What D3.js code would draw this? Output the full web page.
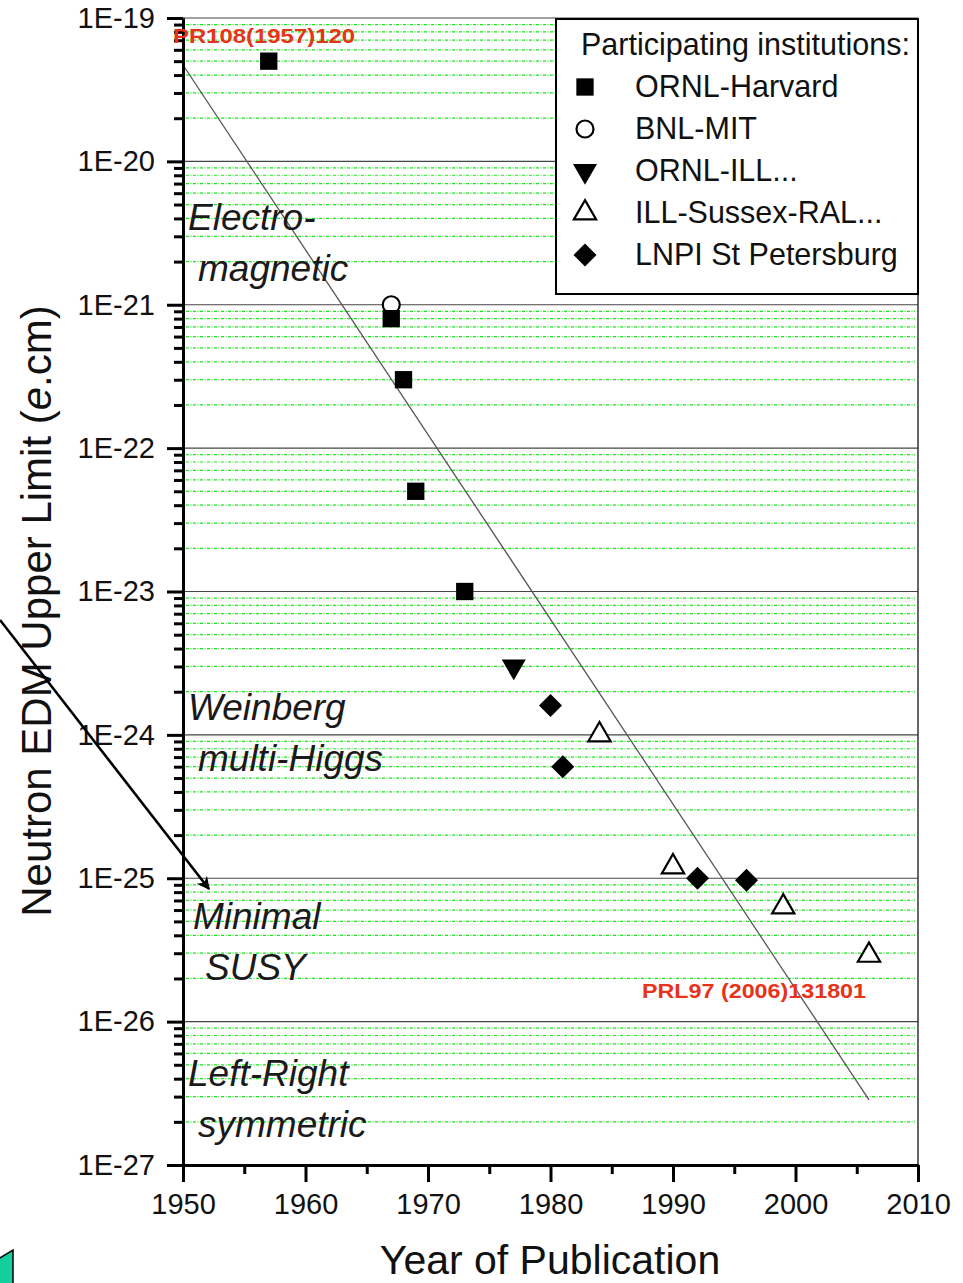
<!DOCTYPE html>
<html><head><meta charset="utf-8">
<script src="https://cdn.jsdelivr.net/npm/d3@7"></script>
<style>
html,body{margin:0;padding:0;background:#fff;}
svg{display:block;font-family:"Liberation Sans",Arial,sans-serif;}
</style></head>
<body><svg id="c" width="963" height="1283"></svg>
<script>
// ---- data ----
const xTicks = [1950, 1960, 1970, 1980, 1990, 2000, 2010];
const xMinorTicks = [1955, 1965, 1975, 1985, 1995, 2005];
const yTicks = [1e-19, 1e-20, 1e-21, 1e-22, 1e-23, 1e-24, 1e-25, 1e-26, 1e-27];
const yTickLabels = ["1E-19","1E-20","1E-21","1E-22","1E-23","1E-24","1E-25","1E-26","1E-27"];

const ornlHarvardYears = [1957, 1967, 1968, 1969, 1973];
const ornlHarvardValues = [5e-20, 8e-22, 3e-22, 5e-23, 1e-23];
const bnlMitYears = [1967];
const bnlMitValues = [1e-21];
const ornlIllYears = [1977];
const ornlIllValues = [3e-24];
const illSussexYears = [1984, 1990, 1999, 2006];
const illSussexValues = [1e-24, 1.2e-25, 6.3e-26, 2.9e-26];
const lnpiYears = [1980, 1981, 1992, 1996];
const lnpiValues = [1.6e-24, 6e-25, 1e-25, 9.7e-26];

const fitYears = [1950, 2006];
const fitValues = [4.7e-20, 2.85e-27];

const seriesNames = ["ORNL-Harvard", "BNL-MIT", "ORNL-ILL...", "ILL-Sussex-RAL...", "LNPI St Petersburg"];
const regionLabels = [["Electro-", "magnetic"], ["Weinberg", "multi-Higgs"], ["Minimal", "SUSY"], ["Left-Right", "symmetric"]];
const regionValues = [3.33e-21, 1.27e-24, 4.4e-26, 3.56e-27]; // level of first line's baseline

// ---- layout ----
const svg = d3.select("#c");
const x = d3.scaleLinear().domain([1950, 2010]).range([183, 918]);
const y = d3.scaleLog().domain([1e-27, 1e-19]).range([1165, 18]);

// minor values
const yMinor = [];
for (let e = -27; e < -19; e++) for (let m = 2; m <= 9; m++) yMinor.push(m * Math.pow(10, e));

// minor grid (green dotted)
svg.append("g").selectAll("line").data(yMinor).join("line")
  .attr("x1", 186).attr("x2", 915)
  .attr("y1", d => y(d)).attr("y2", d => y(d))
  .attr("stroke", "#19e619").attr("stroke-width", 1.2)
  .attr("stroke-dasharray", "3,1.5,1,1.5");

// major grid
svg.append("g").selectAll("line").data(yTicks).join("line")
  .attr("x1", 183).attr("x2", 918)
  .attr("y1", d => y(d)).attr("y2", d => y(d))
  .attr("stroke", "#444").attr("stroke-width", 1.2);

// right frame
svg.append("line").attr("x1", 918).attr("x2", 918).attr("y1", y(1e-19)).attr("y2", y(1e-27))
  .attr("stroke", "#333").attr("stroke-width", 1.5);

// fit line
svg.append("line")
  .attr("x1", x(fitYears[0])).attr("y1", y(fitValues[0]))
  .attr("x2", x(fitYears[1])).attr("y2", y(fitValues[1]))
  .attr("stroke", "#555").attr("stroke-width", 1.3);

// region labels
regionLabels.forEach((lines, i) => {
  const by = y(regionValues[i]);
  const xs = i === 2 ? [193, 205] : [188, 198];
  lines.forEach((t, j) => {
    svg.append("text").attr("x", xs[j]).attr("y", by + j * 51)
      .attr("font-size", 37).attr("font-style", "italic").attr("fill", "#1a1a1a").text(t);
  });
});

// axes
const axL = svg.append("g").attr("transform", "translate(183,0)")
  .call(d3.axisLeft(y).tickValues(yTicks).tickFormat((d, i) => yTickLabels[i]).tickSize(16).tickSizeOuter(0).tickPadding(12));
const axLm = svg.append("g").attr("transform", "translate(183,0)")
  .call(d3.axisLeft(y).tickValues(yMinor).tickFormat("").tickSize(9).tickSizeOuter(0));
const axB = svg.append("g").attr("transform", "translate(0,1165)")
  .call(d3.axisBottom(x).tickValues(xTicks).tickFormat(d3.format("d")).tickSize(17).tickSizeOuter(0).tickPadding(11));
const axBm = svg.append("g").attr("transform", "translate(0,1165)")
  .call(d3.axisBottom(x).tickValues(xMinorTicks).tickFormat("").tickSize(9).tickSizeOuter(0));
[axL, axLm, axB, axBm].forEach(g => {
  g.select(".domain").attr("stroke", "#000").attr("stroke-width", 3);
  g.selectAll(".tick line").attr("stroke", "#000").attr("stroke-width", 3);
  g.selectAll(".tick text").attr("font-size", 29).attr("fill", "#111")
    .attr("font-family", "Liberation Sans, Arial, sans-serif");
});

// marker helpers
const sq = d3.symbol().type(d3.symbolSquare).size(300)();
const dia = d3.symbol().type(d3.symbolSquare).size(265)();
const triUp = d3.symbol().type(d3.symbolTriangle).size(215)();
const triDown = d3.symbol().type(d3.symbolTriangle).size(250)();
function drawMarker(g, type, cx, cy) {
  if (type === 0) g.append("path").attr("d", sq).attr("transform", `translate(${cx},${cy})`).attr("fill", "#000");
  else if (type === 1) g.append("circle").attr("cx", cx).attr("cy", cy).attr("r", 8.5).attr("fill", "#fff").attr("stroke", "#000").attr("stroke-width", 2.2);
  else if (type === 2) g.append("path").attr("d", triDown).attr("transform", `translate(${cx},${cy}) rotate(180)`).attr("fill", "#000");
  else if (type === 3) g.append("path").attr("d", triUp).attr("transform", `translate(${cx},${cy})`).attr("fill", "#fff").attr("stroke", "#000").attr("stroke-width", 2.2);
  else g.append("path").attr("d", dia).attr("transform", `translate(${cx},${cy}) rotate(45)`).attr("fill", "#000");
}
const series = [
  [ornlHarvardYears, ornlHarvardValues],
  [bnlMitYears, bnlMitValues],
  [ornlIllYears, ornlIllValues],
  [illSussexYears, illSussexValues],
  [lnpiYears, lnpiValues]
];
const gm = svg.append("g");
[1, 0, 2, 3, 4].forEach(si => {
  const [ys, vs] = series[si];
  ys.forEach((yr, k) => drawMarker(gm, si, x(yr), y(vs[k])));
});

// legend
const lg = svg.append("g");
lg.append("rect").attr("x", 556).attr("y", 19).attr("width", 362).attr("height", 275)
  .attr("fill", "#fff").attr("stroke", "#000").attr("stroke-width", 2);
lg.append("text").attr("x", 581).attr("y", 55).attr("font-size", 30.5).attr("fill", "#111").text("Participating institutions:");
seriesNames.forEach((n, i) => {
  const cy = 87 + i * 42;
  drawMarker(lg, i, 585, cy);
  lg.append("text").attr("x", 635).attr("y", cy + 10).attr("font-size", 30.5).attr("fill", "#111").text(n);
});

// red reference labels
svg.append("text").attr("x", 173).attr("y", 43).attr("font-size", 21).attr("font-weight", "bold")
  .attr("fill", "#e6331a").attr("textLength", 182).attr("lengthAdjust", "spacingAndGlyphs").text("PR108(1957)120");
svg.append("text").attr("x", 642).attr("y", 998).attr("font-size", 21).attr("font-weight", "bold")
  .attr("fill", "#e6331a").attr("textLength", 224).attr("lengthAdjust", "spacingAndGlyphs").text("PRL97 (2006)131801");

// axis titles
svg.append("text").attr("x", 550).attr("y", 1274).attr("text-anchor", "middle").attr("font-size", 41).attr("fill", "#111")
  .text("Year of Publication");
const yt = svg.append("text").attr("transform", "translate(51,611) rotate(-90)").attr("text-anchor", "middle")
  .attr("font-size", 42).attr("fill", "#111");
yt.append("tspan").text("Neutron EDM Upper Limit (");
yt.append("tspan").attr("font-style", "italic").text("e");
yt.append("tspan").text(".cm)");

// arrow
const defs = svg.append("defs");
defs.append("marker").attr("id", "ah").attr("viewBox", "0 0 10 10").attr("refX", 9).attr("refY", 5)
  .attr("markerWidth", 6).attr("markerHeight", 5).attr("orient", "auto").attr("markerUnits", "strokeWidth")
  .append("path").attr("d", "M0,0 L10,5 L0,10 L3,5 Z").attr("fill", "#000");
svg.append("line").attr("x1", 0).attr("y1", 620).attr("x2", 209).attr("y2", 889)
  .attr("stroke", "#000").attr("stroke-width", 2.6).attr("marker-end", "url(#ah)");

// teal decoration bottom-left
svg.append("path").attr("d", "M-2,1259 L13,1250 L13,1290 L-2,1290 Z")
  .attr("fill", "#14cf9c").attr("stroke", "#000").attr("stroke-width", 1.5);
</script></body></html>
